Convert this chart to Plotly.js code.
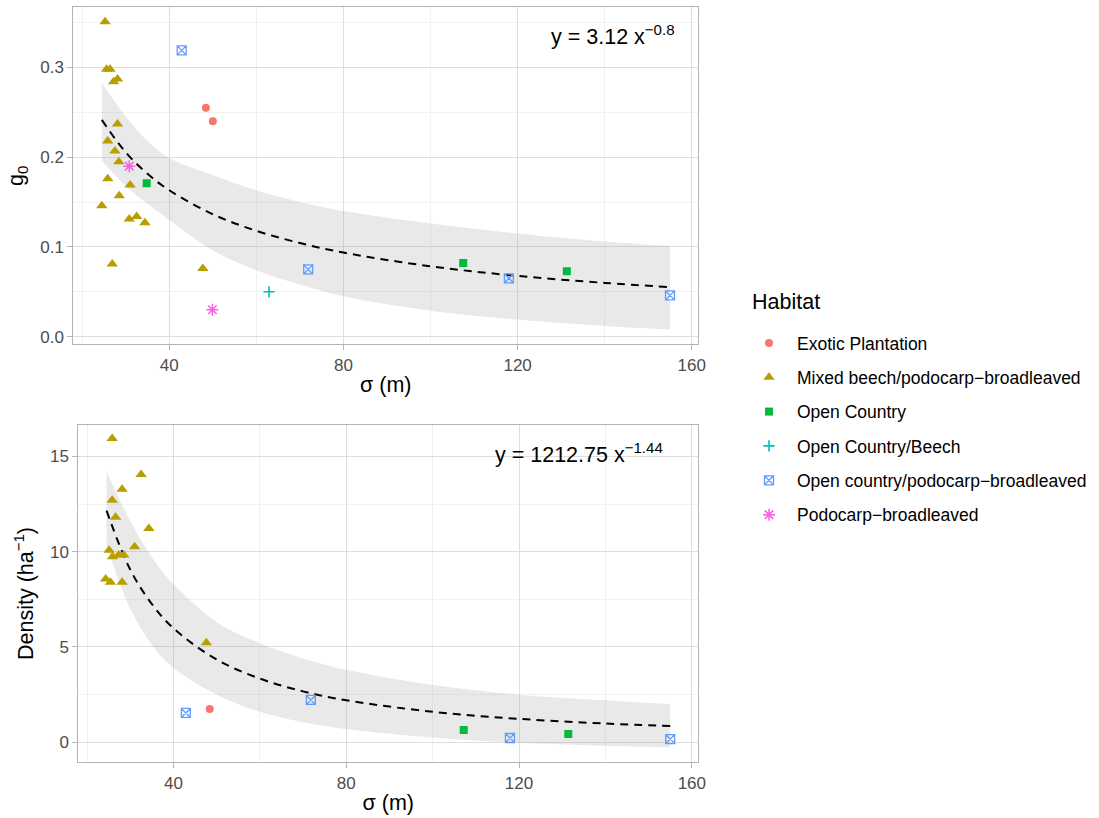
<!DOCTYPE html>
<html><head><meta charset="utf-8">
<script src="https://cdn.plot.ly/plotly-3.0.1.min.js"></script>
<style>html,body{margin:0;padding:0;background:#fff}#chart{width:1099px;height:818px}</style>
</head><body><div id="chart"></div>
<script>
const FONT = 'Liberation Sans, Arial, Helvetica, sans-serif';

const habitats = ['Exotic Plantation', 'Mixed beech/podocarp\u2212broadleaved', 'Open Country',
  'Open Country/Beech', 'Open country/podocarp\u2212broadleaved', 'Podocarp\u2212broadleaved'];
const colors = ['#F8766D', '#B79F00', '#00BA38', '#00BFC4', '#619CFF', '#F564E3'];
const symbols = ['circle', 'triangle-up', 'square', 'cross-thin-open', 'square-x-open', 'asterisk-open'];
const sizes = [8, 10, 8, 8, 9, 10];
const lineWidths = [0, 0, 0, 1.6, 1.3, 1.5];
const legendTitle = 'Habitat';

// ---- Top panel: g0 vs sigma ----
const g0Sigma = [
  [48.4, 50.0],
  [25.25, 25.6, 26.4, 27.2, 28.1, 28.1, 25.85, 27.5, 28.4, 25.85, 31.0, 28.5, 24.5, 30.8, 32.5, 34.4, 26.9, 47.7],
  [34.8, 107.5, 131.3],
  [62.9],
  [42.85, 71.9, 118.0, 155.0],
  [30.8, 49.9]
];
const g0Values = [
  [0.255, 0.240],
  [0.351, 0.298, 0.298, 0.284, 0.287, 0.237, 0.218, 0.207, 0.195, 0.176, 0.169, 0.157, 0.146, 0.131, 0.134, 0.127, 0.081, 0.076],
  [0.171, 0.082, 0.073],
  [0.050],
  [0.319, 0.075, 0.065, 0.046],
  [0.190, 0.030]
];
const g0FitSigma = [24.5, 30, 35, 40, 50, 60, 70, 80, 100, 120, 140, 155];
const g0Fit   = [0.2415, 0.2053, 0.1815, 0.1631, 0.1364, 0.1179, 0.1043, 0.0937, 0.0784, 0.0677, 0.0599, 0.0552];
const g0Upper = [0.283, 0.245, 0.218, 0.199, 0.180, 0.163, 0.150, 0.140, 0.126, 0.115, 0.106, 0.101];
const g0Lower = [0.196, 0.168, 0.148, 0.130, 0.096, 0.074, 0.058, 0.045, 0.029, 0.019, 0.012, 0.008];

// ---- Bottom panel: density vs sigma ----
const densSigma = [
  [48.4],
  [25.8, 32.5, 28.1, 25.8, 26.6, 34.3, 31.0, 25.1, 25.9, 27.3, 28.5, 24.3, 25.4, 28.1, 47.6],
  [107.2, 131.4],
  [],
  [42.85, 71.8, 117.9, 155.0],
  []
];
const densValues = [
  [1.75],
  [15.94, 14.05, 13.28, 12.70, 11.80, 11.22, 10.26, 10.08, 9.73, 9.82, 9.82, 8.56, 8.39, 8.39, 5.22],
  [0.645, 0.435],
  [],
  [1.54, 2.22, 0.225, 0.17],
  []
];
const densFitSigma = [24.5, 30, 35, 40, 50, 60, 70, 80, 100, 120, 140, 155];
const densFit   = [12.15, 9.05, 7.25, 5.98, 4.34, 3.34, 2.67, 2.205, 1.598, 1.229, 0.984, 0.850];
const densUpper = [14.2, 11.6, 9.7, 8.3, 6.3, 5.2, 4.4, 3.8, 3.0, 2.5, 2.2, 2.0];
const densLower = [10.3, 7.0, 5.1, 3.9, 2.5, 1.6, 1.05, 0.7, 0.25, -0.02, -0.18, -0.26];

const eqTop = 'y = 3.12 x<sup>\u22120.8</sup>';
const eqBottom = 'y = 1212.75 x<sup>\u22121.44</sup>';

const traces = [];
function ribbon(xs, lo, hi, fit, xa, ya) {
  traces.push({x: xs, y: lo, xaxis: xa, yaxis: ya, mode: 'lines', line: {width: 0, shape: 'spline'},
    showlegend: false, hoverinfo: 'skip'});
  traces.push({x: xs, y: hi, xaxis: xa, yaxis: ya, mode: 'lines', line: {width: 0, shape: 'spline'},
    fill: 'tonexty', fillcolor: 'rgba(153,153,153,0.22)', showlegend: false, hoverinfo: 'skip'});
  traces.push({x: xs, y: fit, xaxis: xa, yaxis: ya, mode: 'lines',
    line: {color: '#000', width: 2, dash: '8px,6px', shape: 'spline'}, showlegend: false, hoverinfo: 'skip'});
}
ribbon(g0FitSigma, g0Lower, g0Upper, g0Fit, 'x', 'y');
ribbon(densFitSigma, densLower, densUpper, densFit, 'x2', 'y2');

function points(xsArr, ysArr, xa, ya, legend) {
  habitats.forEach((h, i) => {
    if (!xsArr[i].length) return;
    traces.push({
      x: xsArr[i], y: ysArr[i], xaxis: xa, yaxis: ya, type: 'scatter', mode: 'markers',
      name: h, legendgroup: h, showlegend: legend,
      marker: {symbol: symbols[i], size: sizes[i], color: colors[i],
        line: {color: colors[i], width: lineWidths[i]}}
    });
  });
}
points(g0Sigma, g0Values, 'x', 'y', true);
points(densSigma, densValues, 'x2', 'y2', false);

const minorGrid = {showgrid: true, gridcolor: '#EDEDED', gridwidth: 0.8, ticks: ''};
const axisBase = {
  showline: true, mirror: true, linecolor: '#B3B3B3', linewidth: 1,
  ticks: 'outside', ticklen: 5, tickcolor: '#B3B3B3', tickwidth: 1,
  showgrid: true, gridcolor: '#DEDEDE', gridwidth: 1, zeroline: false,
  tickfont: {family: FONT, size: 17, color: '#4D4D4D'}
};
const titleFont = {family: FONT, size: 21.5, color: '#000'};

const layout = {
  width: 1099, height: 818,
  margin: {l: 0, r: 0, t: 0, b: 0},
  paper_bgcolor: '#fff', plot_bgcolor: '#fff',
  font: {family: FONT},
  xaxis: Object.assign({}, axisBase, {domain: [0.0667, 0.6354], anchor: 'y', range: [17.95, 161.5],
    tick0: 0, dtick: 40, minor: Object.assign({dtick: 20}, minorGrid),
    title: {text: '\u03c3 (m)', font: titleFont, standoff: 3}}),
  yaxis: Object.assign({}, axisBase, {domain: [0.5791, 0.9911], anchor: 'x', range: [-0.0085, 0.367],
    tick0: 0, dtick: 0.1, tickformat: '.1f', minor: Object.assign({dtick: 0.05}, minorGrid),
    title: {text: 'g<sub>0</sub>', font: titleFont, standoff: 10}}),
  xaxis2: Object.assign({}, axisBase, {domain: [0.0712, 0.6354], anchor: 'y2', range: [17.95, 161.5],
    tick0: 0, dtick: 40, minor: Object.assign({dtick: 20}, minorGrid),
    title: {text: '\u03c3 (m)', font: titleFont, standoff: 3}}),
  yaxis2: Object.assign({}, axisBase, {domain: [0.0681, 0.4808], anchor: 'x2', range: [-1.05, 16.66],
    tick0: 0, dtick: 5, minor: Object.assign({dtick: 2.5}, minorGrid),
    title: {text: 'Density (ha<sup>\u22121</sup>)', font: titleFont, standoff: 10}}),
  legend: {x: 741 / 1099, xanchor: 'left', y: (818 - 325) / 818, yanchor: 'top', traceorder: 'grouped',
    tracegroupgap: 8.6, itemwidth: 46, bgcolor: 'rgba(0,0,0,0)',
    font: {family: FONT, size: 17.5, color: '#000'}},
  annotations: [
    {xref: 'x', yref: 'y', x: 156.6, y: 0.336, xanchor: 'right', yanchor: 'middle', showarrow: false,
      text: eqTop, font: {family: FONT, size: 21.5, color: '#000'}},
    {xref: 'x2', yref: 'y2', x: 153.8, y: 15.17, xanchor: 'right', yanchor: 'middle', showarrow: false,
      text: eqBottom, font: {family: FONT, size: 21.5, color: '#000'}},
    {xref: 'paper', yref: 'paper', x: 750 / 1099, y: (818 - 302) / 818, xanchor: 'left', yanchor: 'middle',
      showarrow: false, text: legendTitle, font: {family: FONT, size: 21.5, color: '#000'}}
  ],
  showlegend: true
};

Plotly.newPlot('chart', traces, layout, {displayModeBar: false, staticPlot: true});
</script>
</body></html>
